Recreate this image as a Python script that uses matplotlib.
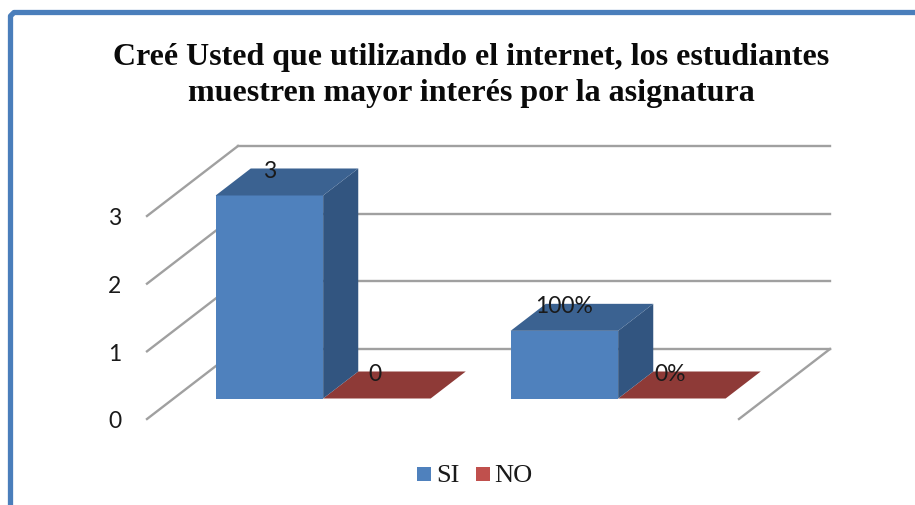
import matplotlib
matplotlib.use("Agg")
import matplotlib.pyplot as plt
from matplotlib.lines import Line2D
from matplotlib.patches import Rectangle

# Data
title_lines = ["Creé Usted que utilizando el internet, los estudiantes",
               "muestren mayor interés por la asignatura"]
series_names = ["SI", "NO"]
si_values = [3, 1]
no_values = [0, 0]
si_labels = ["3", "100%"]
no_labels = ["0", "0%"]
y_ticks = [0, 1, 2, 3]

W, H = 915, 506
fig = plt.figure(figsize=(W / 100, H / 100), dpi=100, facecolor="white")

def fx(p): return p / W
def fy(p): return 1 - p / H

# Plot geometry in pixels
left_px, right_px, floor_px, top_px = 147, 830, 420, 146
cat_px, unit_px = 295.0, 67.67
ax = fig.add_axes([fx(left_px), fy(floor_px), (right_px - left_px) / W, (floor_px - top_px) / H])
ax.set_xlim(0, (right_px - left_px) / cat_px)
ax.set_ylim(0, (floor_px - top_px) / unit_px)
ax.patch.set_alpha(0)
for s in ax.spines.values():
    s.set_visible(False)
ax.set_xticks([])
ax.set_yticks(y_ticks)
ax.tick_params(axis="y", length=0, pad=18.5, labelsize=16.5, labelcolor="#1a1a1a")
for t in ax.get_yticklabels():
    t.set_family("Lato")

# Oblique projection, in data units
wall_dx, wall_dy = 91 / cat_px, 70 / unit_px
bar_w = 107.5 / cat_px
off = 20.5 / 70
dep = 27 / 70
grid_c = "#a0a0a0"
xmax = ax.get_xlim()[1]
label_shift = -2 / unit_px
x_shift = 2 / cat_px

for v in y_ticks:
    ax.plot([0, wall_dx], [v, v + wall_dy], color=grid_c, lw=1.7, zorder=1, clip_on=False)
    ax.plot([wall_dx, xmax], [v + wall_dy, v + wall_dy], color=grid_c, lw=1.7, zorder=1, clip_on=False)
ax.plot([xmax, xmax - wall_dx], [wall_dy, 0], color=grid_c, lw=1.7, zorder=1, clip_on=False)

def bar3d(x0, val, front, top, side, zorder):
    sx, sy = off * wall_dx + x_shift, off * wall_dy
    ddx, ddy = dep * wall_dx, dep * wall_dy
    xl, xr = x0 + sx, x0 + sx + bar_w
    if val > 0:
        ax.bar(xl, val, width=bar_w, bottom=sy, align="edge", color=front, zorder=zorder, linewidth=0)
        ax.fill([xr, xr + ddx, xr + ddx, xr], [sy, sy + ddy, sy + ddy + val, sy + val],
                color=side, zorder=zorder, linewidth=0)
    ax.fill([xl, xr, xr + ddx, xl + ddx], [sy + val, sy + val, sy + val + ddy, sy + val + ddy],
            color=top, zorder=zorder, linewidth=0)
    return xl + ddx * 0.5 + bar_w * 0.5 - 0.06, sy + val + ddy

for i in range(len(si_values)):
    x_si = i + 0.5 - bar_w
    x_no = i + 0.5
    bar3d(x_no, no_values[i], "#8e3a37", "#8e3a37", "#8e3a37", 2)
    lx, ly = bar3d(x_si, si_values[i], "#4f81bd", "#3b6291", "#325580", 3)
    ax.text(lx, ly + label_shift, si_labels[i], ha="center", va="center", family="Lato", fontsize=16.5,
            color="#1a1a1a", zorder=5)
    sx, sy = off * wall_dx + x_shift, off * wall_dy
    ax.text(x_no + sx + dep * wall_dx + 17 / cat_px, no_values[i] + sy + dep * wall_dy + label_shift,
            no_labels[i], ha="center", va="center", family="Lato", fontsize=16.5, color="#1a1a1a", zorder=5)

# Title
for line, y in zip(title_lines, (58, 94)):
    fig.text(fx(471.5), fy(y), line, ha="center", va="center", family="Liberation Serif",
             fontweight="bold", fontsize=23, color="#0a0a0a")

# Legend
for name, sq_x, txt_x, c in zip(series_names, (417, 476), (436, 494), ("#4f81bd", "#c0504d")):
    fig.add_artist(Rectangle((fx(sq_x), fy(482)), 14 / W, 14 / H, transform=fig.transFigure,
                             facecolor=c, edgecolor="none"))
    fig.text(fx(txt_x), fy(476), name, ha="left", va="center", family="Liberation Serif",
             fontsize=19, color="#1a1a1a")

# Outer border
border = "#4a7ebb"
fig.add_artist(Line2D([fx(10.5), fx(10.5), fx(14), fx(W)],
                      [fy(H), fy(17), fy(13.5), fy(13.5)], transform=fig.transFigure,
                      color=border, lw=3.8, solid_joinstyle="round", solid_capstyle="butt"))

fig.savefig("out.png", dpi=100, facecolor="white")
